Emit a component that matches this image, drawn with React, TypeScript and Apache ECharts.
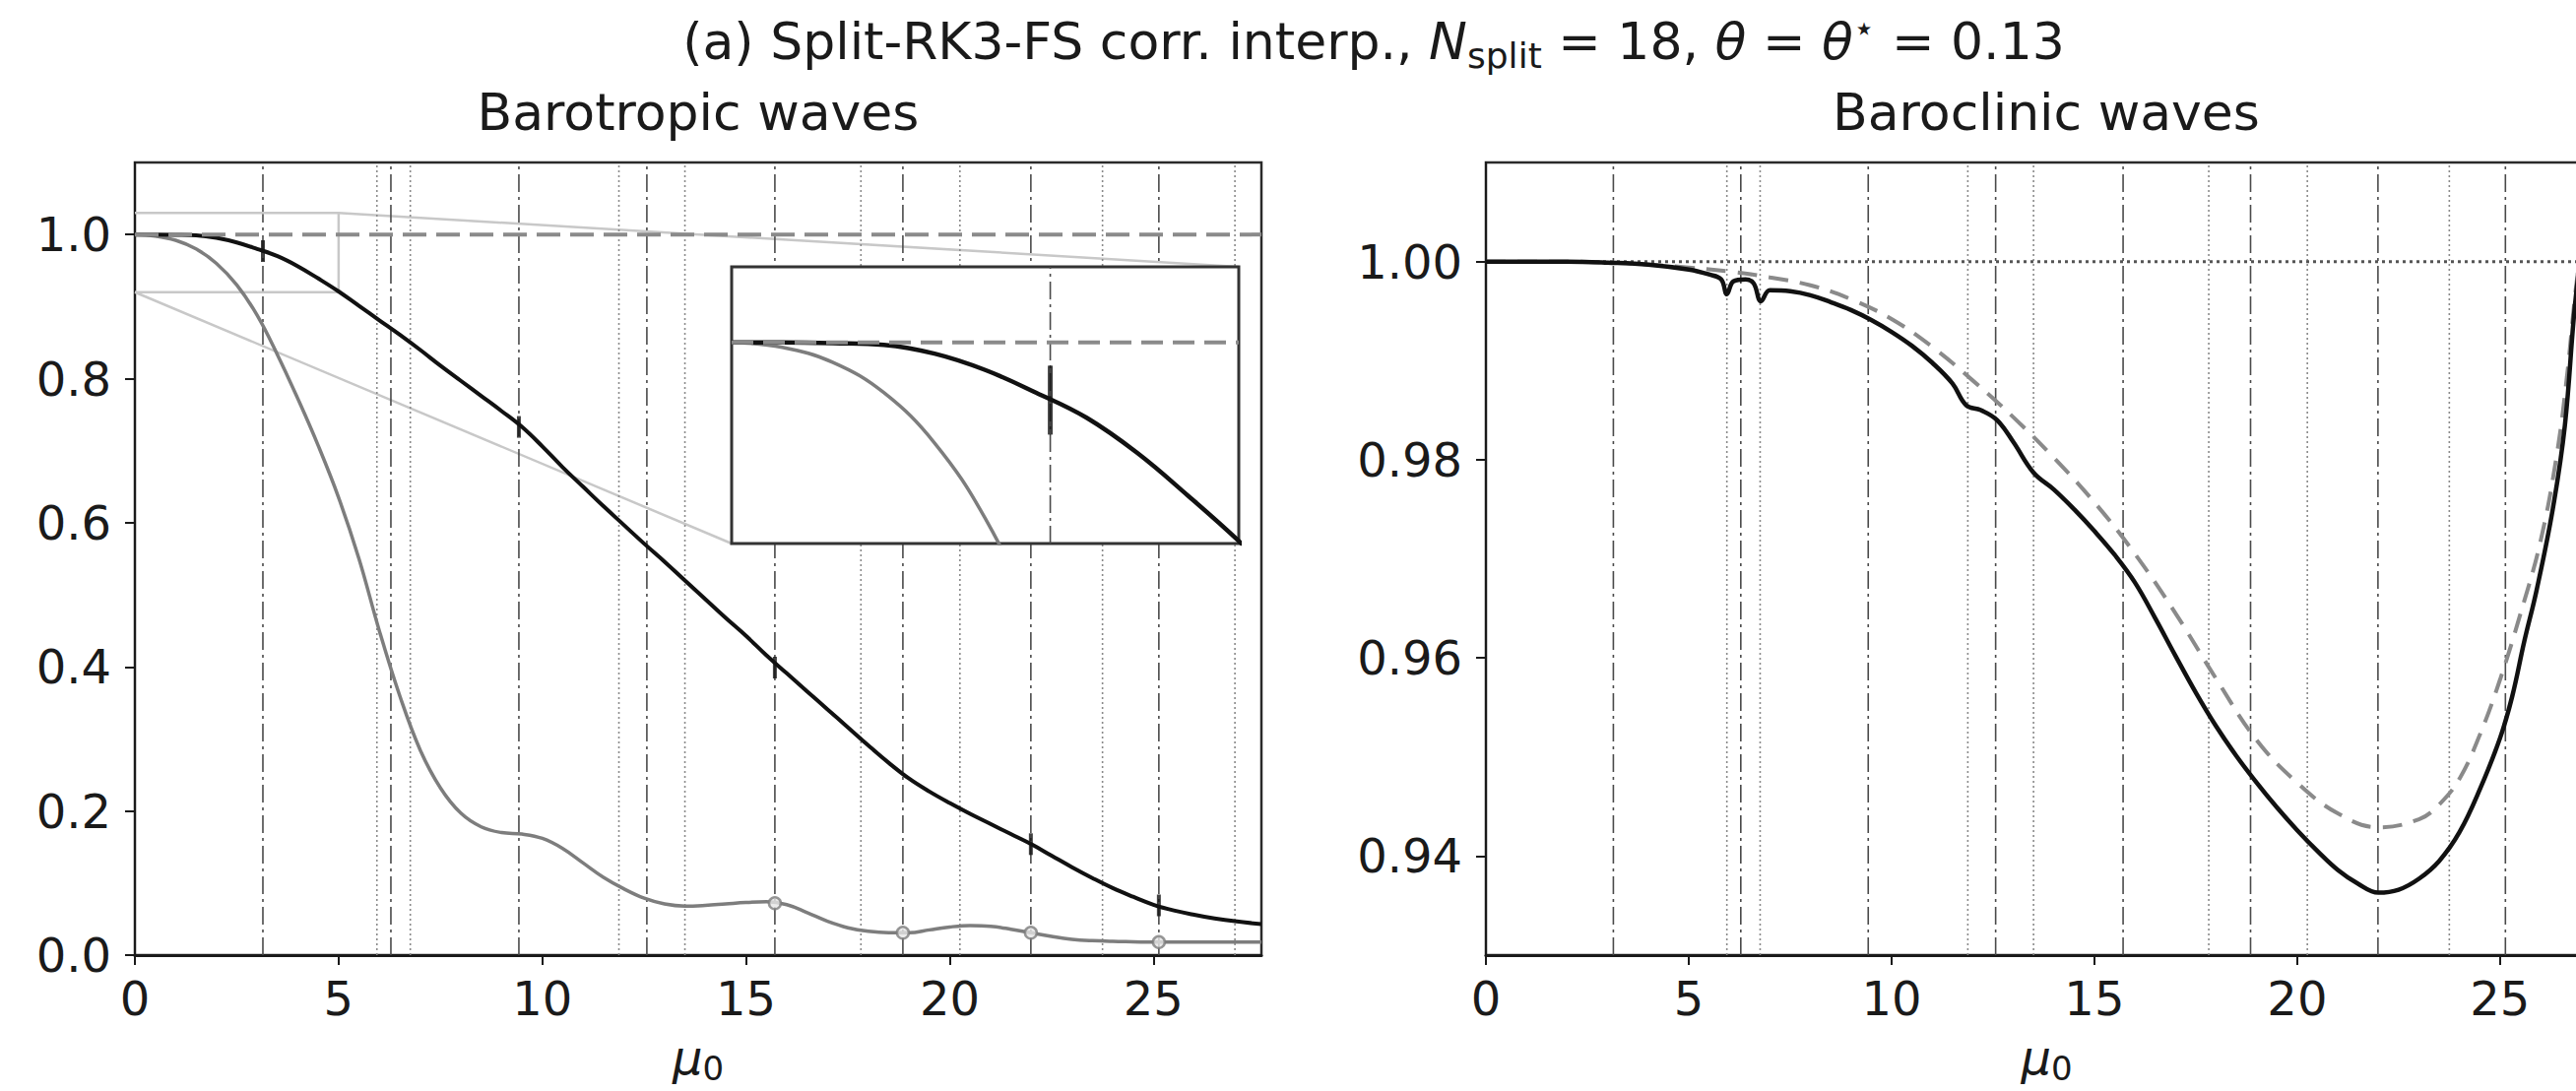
import React, { useEffect, useRef } from "react";
import * as echarts from "echarts";

const FONT = "DejaVu Sans";
const INK = "#1a1a1a";

// ---- axes ----
const muRange = [0, 27.65];
const barotropicRange = [0, 1.1];
const baroclinicRange = [0.93, 1.01];
const insetMuRange = [0, 5];
const insetValRange = [0.92, 1.03];
const muTicks = [0, 5, 10, 15, 20, 25];
const barotropicTicks = [0, 0.2, 0.4, 0.6, 0.8, 1.0];
const baroclinicTicks = [0.94, 0.96, 0.98, 1.0];

// ---- vertical reference lines (mu0 values) ----
const dashDotLines = [3.1416, 6.2832, 9.4248, 12.566, 15.708, 18.85, 21.991, 25.133];
const dottedLines = [5.94, 6.76, 11.88, 13.5, 17.82, 20.25, 23.75, 27.0];

// ---- barotropic panel ----
const btMu = [0, 0.5, 1, 1.5, 2, 2.5, 3, 3.5, 4, 4.5, 5, 5.5, 6, 6.5, 7, 7.5, 8, 8.5, 9, 9.5, 10, 10.5, 11, 11.5, 12, 12.5, 13, 13.5, 14, 14.5, 15, 15.5, 16, 16.5, 17, 17.5, 18, 18.5, 19, 19.5, 20, 20.5, 21, 21.5, 22, 22.5, 23, 23.5, 24, 24.5, 25, 25.5, 26, 26.5, 27, 27.65];
const btSplit = [1.0, 1.0, 0.9997, 0.999, 0.9955, 0.989, 0.98, 0.97, 0.956, 0.939, 0.921, 0.901, 0.881, 0.861, 0.84, 0.818, 0.797, 0.776, 0.755, 0.733, 0.706, 0.677, 0.65, 0.623, 0.597, 0.571, 0.546, 0.52, 0.494, 0.468, 0.443, 0.416, 0.391, 0.366, 0.341, 0.316, 0.291, 0.267, 0.245, 0.227, 0.211, 0.196, 0.182, 0.168, 0.154, 0.138, 0.122, 0.107, 0.093, 0.081, 0.07, 0.062, 0.056, 0.051, 0.047, 0.043];
const grMu = [0, 0.5, 1, 1.5, 2, 2.5, 3, 3.5, 4, 4.5, 5, 5.5, 6, 6.5, 7, 7.5, 8, 8.5, 9, 9.5, 10, 10.5, 11, 11.5, 12, 12.5, 13, 13.5, 14, 14.5, 15, 15.5, 16, 16.5, 17, 17.5, 18, 18.5, 19, 19.5, 20, 20.5, 21, 21.5, 22, 22.5, 23, 23.5, 24, 24.5, 25, 25.5, 26, 26.5, 27, 27.65];
const grVal = [1.0, 0.998, 0.992, 0.98, 0.96, 0.93, 0.888, 0.833, 0.772, 0.707, 0.635, 0.55, 0.45, 0.36, 0.285, 0.232, 0.197, 0.178, 0.17, 0.168, 0.162, 0.148, 0.128, 0.108, 0.092, 0.079, 0.071, 0.068, 0.069, 0.071, 0.073, 0.074, 0.07, 0.059, 0.047, 0.038, 0.033, 0.031, 0.031, 0.035, 0.039, 0.041, 0.04, 0.036, 0.031, 0.026, 0.022, 0.02, 0.019, 0.0185, 0.018, 0.018, 0.018, 0.018, 0.018, 0.018];
const btMarkMu = [3.1416, 9.4248, 15.708, 21.991, 25.133];
const btMarkVal = [0.977, 0.733, 0.399, 0.154, 0.069];
const grMarkMu = [15.708, 18.85, 21.991, 25.133];
const grMarkVal = [0.072, 0.031, 0.031, 0.018];
const btReference = 1.0;

// ---- baroclinic panel ----
const bcMu = [0, 2, 3, 4, 5, 5.5, 5.8, 5.94, 6.1, 6.4, 6.6, 6.78, 7.0, 7.5, 8, 8.5, 9, 9.5, 10, 10.5, 11, 11.5, 11.84, 12.2, 12.6, 13, 13.5, 14, 14.5, 15, 15.5, 16, 16.5, 17, 17.5, 18, 18.5, 19, 19.5, 20, 20.5, 21, 21.5, 22, 22.5, 23, 23.5, 24, 24.5, 25, 25.3, 25.6, 25.9, 26.3, 26.6, 26.85, 27.1];
const bcSplit = [1.0, 1.0, 0.9999, 0.9997, 0.9992, 0.9987, 0.9982, 0.9967, 0.998, 0.9982, 0.9978, 0.996, 0.9971, 0.997, 0.9966, 0.9959, 0.9951, 0.9941, 0.9929, 0.9915, 0.9898, 0.9877, 0.9855, 0.985, 0.984, 0.9818, 0.9787, 0.977, 0.975, 0.9728, 0.9704, 0.9676, 0.964, 0.9602, 0.9565, 0.9531, 0.9501, 0.9474, 0.9449, 0.9426, 0.9405, 0.9386, 0.9372, 0.9363, 0.9366, 0.9377, 0.9395, 0.9424, 0.9467, 0.9519, 0.9561, 0.9617, 0.9668, 0.975, 0.9835, 0.9957, 1.004];
const bcDashMu = [0, 2, 3, 4, 5, 6, 7, 8, 9, 10, 11, 12, 13, 14, 15, 16, 17, 18, 19, 20, 21, 22, 23, 23.5, 24, 24.5, 25, 25.5, 26, 26.4, 26.65, 26.87, 27.15];
const bcDash = [1.0, 1.0, 0.9999, 0.9997, 0.9994, 0.999, 0.9984, 0.9976, 0.9962, 0.9942, 0.9914, 0.988, 0.9843, 0.9802, 0.9757, 0.9705, 0.9645, 0.9579, 0.9517, 0.9474, 0.9443, 0.9429, 0.9437, 0.9452, 0.9478, 0.9522, 0.9578, 0.9644, 0.9718, 0.9805, 0.9884, 0.9973, 1.006];
const bcReference = 1.0;

const pairs = (xs: number[], ys: number[]) => xs.map((x, i) => [x, ys[i]]);

const dashDotStyle = { color: "#4a4a4a", width: 1.6, type: [18, 5, 3, 5] };
const dottedStyle = { color: "#8a8a8a", width: 1.6, type: [2, 3] };

function vLines(gi: number, xr: number[], yr: number[], z: number) {
  const out: any[] = [];
  dashDotLines.filter((v) => v > xr[0] && v < xr[1]).forEach((v) =>
    out.push({ type: "line", xAxisIndex: gi, yAxisIndex: gi, data: [[v, yr[0]], [v, yr[1]]], symbol: "none", silent: true, lineStyle: dashDotStyle, z })
  );
  dottedLines.filter((v) => v > xr[0] && v < xr[1]).forEach((v) =>
    out.push({ type: "line", xAxisIndex: gi, yAxisIndex: gi, data: [[v, yr[0]], [v, yr[1]]], symbol: "none", silent: true, lineStyle: dottedStyle, z })
  );
  return out;
}

const nameRich = {
  i: { fontFamily: FONT, fontStyle: "italic", fontSize: 48, lineHeight: 56, color: INK, verticalAlign: "middle" },
  s: { fontFamily: FONT, fontSize: 34, lineHeight: 34, color: INK, verticalAlign: "bottom" },
};

function mainX(gi: number) {
  return {
    type: "value", gridIndex: gi, min: muRange[0], max: muRange[1],
    axisLine: { show: true, onZero: false, lineStyle: { color: INK, width: 3 } },
    axisTick: { show: true, inside: false, length: 10, lineStyle: { color: INK, width: 2 }, customValues: muTicks },
    axisLabel: { customValues: muTicks, fontSize: 48, fontFamily: FONT, color: INK, margin: 20, formatter: (v: number) => String(Math.round(v)) },
    splitLine: { show: false },
    name: "{i|μ}{s|0}", nameLocation: "middle", nameGap: 76,
    nameTextStyle: { rich: nameRich },
  };
}

function mainY(gi: number, range: number[], ticks: number[], digits: number) {
  return {
    type: "value", gridIndex: gi, min: range[0], max: range[1],
    axisLine: { show: true, onZero: false, lineStyle: { color: INK, width: 2 } },
    axisTick: { show: true, inside: false, length: 10, lineStyle: { color: INK, width: 2 }, customValues: ticks },
    axisLabel: { customValues: ticks, fontSize: 48, fontFamily: FONT, color: INK, margin: 24, formatter: (v: number) => v.toFixed(digits) },
    splitLine: { show: false },
  };
}

const SMOOTH = 0.4;

export default function App() {
  const ref = useRef<HTMLDivElement>(null);
  useEffect(() => {
    const el = ref.current as HTMLDivElement;
    const chart = echarts.init(el, null, { renderer: "svg", width: 2616, height: 1108 });

    const series: any[] = [
      // left panel
      ...vLines(0, muRange, barotropicRange, 1),
      {
        type: "line", xAxisIndex: 0, yAxisIndex: 0, symbol: "none", silent: true, z: 1,
        data: [[insetMuRange[0], insetValRange[1]], [insetMuRange[1], insetValRange[1]], [insetMuRange[1], insetValRange[0]], [insetMuRange[0], insetValRange[0]]],
        lineStyle: { color: "#c8c8c8", width: 2.5 },
      },
      { type: "line", xAxisIndex: 0, yAxisIndex: 0, symbol: "none", smooth: SMOOTH, data: pairs(grMu, grVal), lineStyle: { color: "#7d7d7d", width: 3.5 }, z: 3 },
      { type: "line", xAxisIndex: 0, yAxisIndex: 0, symbol: "none", smooth: SMOOTH, data: pairs(btMu, btSplit), lineStyle: { color: "#111", width: 4 }, z: 3 },
      { type: "line", xAxisIndex: 0, yAxisIndex: 0, symbol: "none", data: [[muRange[0], btReference], [muRange[1], btReference]], lineStyle: { color: "#8a8a8a", width: 4, type: [24, 10] }, z: 4 },
      { type: "scatter", xAxisIndex: 0, yAxisIndex: 0, symbol: "rect", symbolSize: [4, 22], data: pairs(btMarkMu, btMarkVal), itemStyle: { color: "#111" }, z: 5 },
      { type: "scatter", xAxisIndex: 0, yAxisIndex: 0, symbol: "circle", symbolSize: 12, data: pairs(grMarkMu, grMarkVal), itemStyle: { color: "#e6e6e6", borderColor: "#7d7d7d", borderWidth: 2.5 }, z: 5 },

      // right panel
      ...vLines(1, muRange, baroclinicRange, 1),
      { type: "line", xAxisIndex: 1, yAxisIndex: 1, symbol: "none", data: [[muRange[0], bcReference], [muRange[1], bcReference]], lineStyle: { color: "#555", width: 3, type: [3, 4] }, z: 2 },
      { type: "line", xAxisIndex: 1, yAxisIndex: 1, symbol: "none", smooth: SMOOTH, data: pairs(bcDashMu, bcDash), lineStyle: { color: "#8a8a8a", width: 4, type: [20, 12] }, z: 3 },
      { type: "line", xAxisIndex: 1, yAxisIndex: 1, symbol: "none", smooth: SMOOTH, data: pairs(bcMu, bcSplit), lineStyle: { color: "#111", width: 4.5 }, z: 4 },

      // inset
      ...vLines(2, insetMuRange, insetValRange, 11),
      { type: "line", xAxisIndex: 2, yAxisIndex: 2, symbol: "none", data: [[insetMuRange[0], btReference], [insetMuRange[1], btReference]], lineStyle: { color: "#8a8a8a", width: 4, type: [22, 10] }, z: 13 },
      { type: "line", xAxisIndex: 2, yAxisIndex: 2, symbol: "none", smooth: SMOOTH, data: pairs(grMu, grVal), lineStyle: { color: "#7d7d7d", width: 3.5 }, z: 12 },
      { type: "line", xAxisIndex: 2, yAxisIndex: 2, symbol: "none", smooth: SMOOTH, data: pairs(btMu, btSplit), lineStyle: { color: "#111", width: 4.5 }, z: 12 },
      { type: "scatter", xAxisIndex: 2, yAxisIndex: 2, symbol: "rect", symbolSize: [5, 70], data: pairs(btMarkMu, btMarkVal).filter((p) => p[0] < insetMuRange[1]), itemStyle: { color: "#111" }, z: 14 },
    ];

    const option: any = {
      animation: false,
      backgroundColor: "#ffffff",
      textStyle: { fontFamily: FONT },
      grid: [
        { left: 137, top: 165, width: 1144, height: 805, show: true, borderColor: "#2a2a2a", borderWidth: 2.5, backgroundColor: "transparent", outerBoundsMode: "none", containLabel: false },
        { left: 1509, top: 165, width: 1139, height: 805, show: true, borderColor: "#2a2a2a", borderWidth: 2.5, backgroundColor: "transparent", outerBoundsMode: "none", containLabel: false },
        { left: 743, top: 271, width: 515, height: 281, show: true, borderColor: "#333", borderWidth: 3, backgroundColor: "#ffffff", z: 10, outerBoundsMode: "none", containLabel: false },
      ],
      xAxis: [
        mainX(0),
        mainX(1),
        { type: "value", gridIndex: 2, min: insetMuRange[0], max: insetMuRange[1], axisLine: { show: false }, axisTick: { show: false }, axisLabel: { show: false }, splitLine: { show: false }, z: 11 },
      ],
      yAxis: [
        mainY(0, barotropicRange, barotropicTicks, 1),
        mainY(1, baroclinicRange, baroclinicTicks, 2),
        { type: "value", gridIndex: 2, min: insetValRange[0], max: insetValRange[1], axisLine: { show: false }, axisTick: { show: false }, axisLabel: { show: false }, splitLine: { show: false }, z: 11 },
      ],
      series,
    };
    chart.setOption(option);

    const a = chart.convertToPixel({ gridIndex: 0 } as any, [insetMuRange[1], insetValRange[1]]) as number[];
    const b = chart.convertToPixel({ gridIndex: 2 } as any, [insetMuRange[1], insetValRange[1]]) as number[];
    const c = chart.convertToPixel({ gridIndex: 0 } as any, [insetMuRange[0], insetValRange[0]]) as number[];
    const d = chart.convertToPixel({ gridIndex: 2 } as any, [insetMuRange[0], insetValRange[0]]) as number[];

    const titleRich = {
      r: { fontFamily: FONT, fontSize: 52, lineHeight: 64, verticalAlign: "middle", fill: INK },
      i: { fontFamily: FONT, fontSize: 52, fontStyle: "italic", lineHeight: 64, verticalAlign: "middle", fill: INK },
      sub: { fontFamily: FONT, fontSize: 36, lineHeight: 36, verticalAlign: "bottom", fill: INK },
      sup: { fontFamily: FONT, fontSize: 36, lineHeight: 36, verticalAlign: "top", fill: INK },
    };

    chart.setOption({
      graphic: [
        {
          type: "text", x: 1395, y: 42, z: 20,
          style: {
            text: "{r|(a) Split-RK3-FS corr. interp., }{i|N}{sub|split}{r| = 18, }{i|θ}{r| = }{i|θ}{sup|⋆}{r| = 0.13}",
            rich: titleRich, fontFamily: FONT, fontSize: 52, fill: INK, align: "center", verticalAlign: "middle",
          },
        },
        { type: "text", x: 709, y: 114, z: 20, style: { text: "Barotropic waves", fontFamily: FONT, fontSize: 52, fill: INK, align: "center", verticalAlign: "middle" } },
        { type: "text", x: 2078, y: 114, z: 20, style: { text: "Baroclinic waves", fontFamily: FONT, fontSize: 52, fill: INK, align: "center", verticalAlign: "middle" } },
        { type: "line", z: 1, silent: true, shape: { x1: a[0], y1: a[1], x2: b[0], y2: b[1] }, style: { stroke: "#c8c8c8", lineWidth: 2.5 } },
        { type: "line", z: 1, silent: true, shape: { x1: c[0], y1: c[1], x2: d[0], y2: d[1] }, style: { stroke: "#c8c8c8", lineWidth: 2.5 } },
      ],
    });

    return () => chart.dispose();
  }, []);

  return (
    <div
      ref={ref}
      style={{ position: "fixed", left: 0, top: 0, width: 2616, height: 1108, background: "#ffffff", overflow: "hidden" }}
    />
  );
}
